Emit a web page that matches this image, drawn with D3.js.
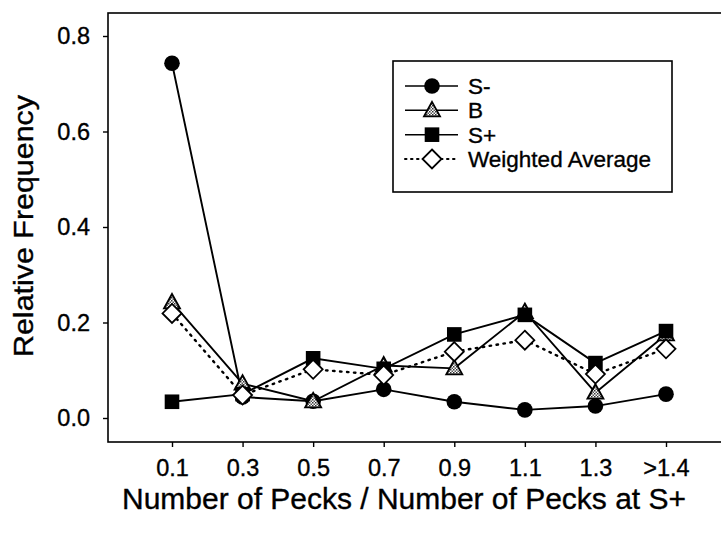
<!DOCTYPE html>
<html>
<head>
<meta charset="utf-8">
<script src="https://cdn.jsdelivr.net/npm/d3@7"></script>
<style>
  body { margin: 0; background: #fff; }
  svg { display: block; font-family: "Liberation Sans", Arial, sans-serif; }
  svg text { fill: #000; stroke: #000; stroke-width: 0.35px; }
</style>
</head>
<body>
<svg id="chart" width="721" height="533"></svg>
<script>
// categories on the x axis
let categories = ["0.1", "0.3", "0.5", "0.7", "0.9", "1.1", "1.3", ">1.4"];
let yTicks = [0.0, 0.2, 0.4, 0.6, 0.8];

// relative frequencies
let sMinus   = [0.743, 0.044, 0.035, 0.060, 0.034, 0.017, 0.025, 0.050];
let bValues  = [0.242, 0.072, 0.035, 0.110, 0.104, 0.222, 0.053, 0.175];
let sPlus    = [0.034, 0.050, 0.125, 0.103, 0.175, 0.216, 0.115, 0.182];
let weighted = [0.219, 0.048, 0.102, 0.090, 0.139, 0.163, 0.092, 0.145];

let series = [
    {name: "S-", values: sMinus, shape: "circle", dash: null},
    {name: "B", values: bValues, shape: "triangle", dash: null},
    {name: "S+", values: sPlus, shape: "square", dash: null},
    {name: "Weighted Average", values: weighted, shape: "diamond", dash: "1.5,5.5"}
];

let svg = d3.select("#chart");

// halftone-ish fill for the triangles
let defs = svg.append("defs");
let pat = defs.append("pattern")
    .attr("id", "dots")
    .attr("width", 3).attr("height", 3)
    .attr("patternUnits", "userSpaceOnUse");
pat.append("rect").attr("width", 3).attr("height", 3).attr("fill", "#fff");
pat.append("rect").attr("width", 1.5).attr("height", 1.5).attr("fill", "#333");
pat.append("rect").attr("x", 1.5).attr("y", 1.5).attr("width", 1.5).attr("height", 1.5).attr("fill", "#555");

let frame = {left: 108, top: 13, right: 740, bottom: 442};

let x = d3.scalePoint().domain(categories).range([172, 666]);
let y = d3.scaleLinear().domain([0, 0.8]).range([418, 36]);

// plot frame
svg.append("rect")
    .attr("x", frame.left).attr("y", frame.top)
    .attr("width", frame.right - frame.left)
    .attr("height", frame.bottom - frame.top)
    .attr("fill", "none")
    .attr("stroke", "#000")
    .attr("stroke-width", 1.6);

// axes
let yAxis = svg.append("g")
    .attr("transform", "translate(" + frame.left + ",0)")
    .call(d3.axisLeft(y).tickValues(yTicks).tickFormat(d3.format(".1f")).tickSize(5).tickPadding(13));
yAxis.select(".domain").remove();
yAxis.selectAll("text").attr("font-size", 23.5).attr("font-family", "Liberation Sans, Arial, sans-serif");
yAxis.selectAll("line").attr("stroke-width", 1.4);

let xAxis = svg.append("g")
    .attr("transform", "translate(0," + frame.bottom + ")")
    .call(d3.axisBottom(x).tickSize(5).tickPadding(12));
xAxis.select(".domain").remove();
xAxis.selectAll("text").attr("font-size", 23.5).attr("font-family", "Liberation Sans, Arial, sans-serif");
xAxis.selectAll("line").attr("stroke-width", 1.4);

// axis titles
svg.append("text")
    .attr("transform", "translate(33,226) rotate(-90)")
    .attr("text-anchor", "middle")
    .attr("font-size", 28)
    .attr("textLength", 262)
    .attr("lengthAdjust", "spacingAndGlyphs")
    .text("Relative Frequency");

svg.append("text")
    .attr("x", 404).attr("y", 509)
    .attr("text-anchor", "middle")
    .attr("font-size", 29)
    .attr("textLength", 564)
    .attr("lengthAdjust", "spacingAndGlyphs")
    .text("Number of Pecks / Number of Pecks at S+");

// marker drawing
function drawMarker(g, shape, cx, cy) {
    if (shape === "circle") {
        g.append("circle").attr("cx", cx).attr("cy", cy).attr("r", 7.8)
            .attr("fill", "#000");
    } else if (shape === "square") {
        g.append("rect").attr("x", cx - 7.3).attr("y", cy - 7.3)
            .attr("width", 14.6).attr("height", 14.6).attr("fill", "#000");
    } else if (shape === "triangle") {
        g.append("path")
            .attr("d", "M" + cx + "," + (cy - 8.5) + "L" + (cx + 8) + "," + (cy + 6) + "L" + (cx - 8) + "," + (cy + 6) + "Z")
            .attr("fill", "url(#dots)").attr("stroke", "#000").attr("stroke-width", 1.8);
    } else {
        g.append("path")
            .attr("d", "M" + cx + "," + (cy - 9.5) + "L" + (cx + 9.5) + "," + cy + "L" + cx + "," + (cy + 9.5) + "L" + (cx - 9.5) + "," + cy + "Z")
            .attr("fill", "#fff").attr("stroke", "#000").attr("stroke-width", 1.8);
    }
}

let line = d3.line()
    .x((d, i) => x(categories[i]))
    .y(d => y(d));

series.forEach(function(s) {
    let g = svg.append("g");
    g.append("path")
        .attr("d", line(s.values))
        .attr("fill", "none")
        .attr("stroke", "#000")
        .attr("stroke-width", s.dash ? 2.4 : 1.9)
        .attr("stroke-dasharray", s.dash)
        .attr("stroke-linecap", s.dash ? "round" : "butt");
    s.values.forEach(function(v, i) {
        drawMarker(g, s.shape, x(categories[i]), y(v));
    });
});

// legend
let legend = svg.append("g");
legend.append("rect")
    .attr("x", 393).attr("y", 61)
    .attr("width", 279).attr("height", 131)
    .attr("fill", "#fff")
    .attr("stroke", "#000")
    .attr("stroke-width", 1.6);

let legendY = d3.scalePoint().domain(series.map(s => s.name)).range([86, 159]);

series.forEach(function(s) {
    let ly = legendY(s.name);
    legend.append("line")
        .attr("x1", 405).attr("x2", 458)
        .attr("y1", ly).attr("y2", ly)
        .attr("stroke", "#000")
        .attr("stroke-width", s.dash ? 2 : 1.5)
        .attr("stroke-dasharray", s.dash ? "1.5,4.5" : null)
        .attr("stroke-linecap", s.dash ? "round" : "butt");
    drawMarker(legend, s.shape, 432, ly);
    legend.append("text")
        .attr("x", 468).attr("y", ly)
        .attr("dy", "0.36em")
        .attr("font-size", 22.5)
        .text(s.name);
});
</script>
</body>
</html>
